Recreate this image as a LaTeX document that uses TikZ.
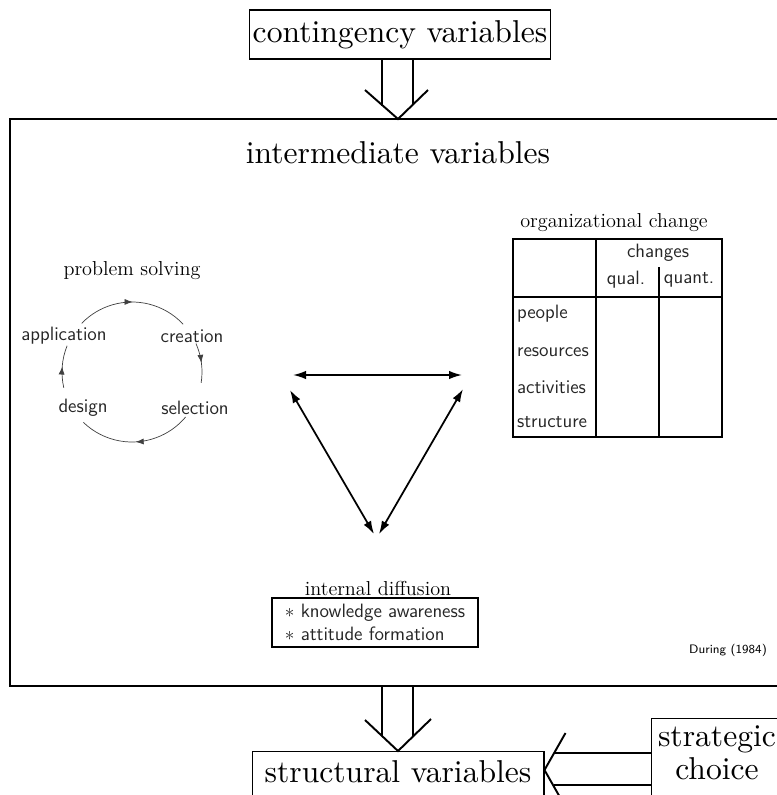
\documentclass[tikz,border=0pt]{standalone}
\usepackage{fontspec}
\usepackage{tikz}
\usetikzlibrary{arrows.meta}
\usetikzlibrary{decorations.markings}
\newfontfamily\tenrm{lmroman10-regular.otf}
\tikzset{->-/.style={decoration={
  markings,
  mark=at position #1 with {\arrow{Latex[length=1.6mm,width=1.2mm]}}},postaction={decorate}}}
\tikzset{bigbox/.style={draw,line width=0.6pt,inner sep=1pt,font=\tenrm\fontsize{18}{19}\selectfont}}
\tikzset{subtitle/.style={font=\fontsize{11.5}{13}\selectfont}}
\tikzset{smalltext/.style={font=\fontsize{11}{13}\sffamily,text=black!85,inner sep=1pt}}
\tikzset{fatline/.style={line width=1.1pt}}
\tikzset{dbl/.style={{Latex[length=2.6mm,width=1.7mm]}-{Latex[length=2.6mm,width=1.7mm]},line width=1pt}}

\begin{document}
\begin{tikzpicture}[x=0.02cm,y=-0.02cm]
      \useasboundingbox (0,0) rectangle (777,795);
      \clip (0,0) rectangle (777,795);
      % top and frame
      \node [bigbox,minimum width=6.02cm,minimum height=0.98cm] (cont) at (400,34.5) {contingency variables};
      \draw [line width=0.6pt] (790,119) -- (10,119) -- (10,686) -- (790,686);
      \coordinate (frametip) at (398,119);
      \coordinate (framebot) at (398,686);
      \draw [fatline] (cont.south) ++(-18,0) -- ++(0,46);
      \draw [fatline] (cont.south) ++(13,0) -- ++(0,45.5);
      \draw [fatline] (frametip) ++(-33,-29) -- (frametip) -- ++(30,-29);
      \node [font=\tenrm\fontsize{18}{19}\selectfont] (inter) at (398,153) {intermediate variables};
      % problem solving
      \node [subtitle] (pstitle) at (132,271) {problem solving};
      \coordinate (psc) at (132,372);
      \node [smalltext] (app) at (64,336) {application};
      \node [smalltext] (cre) at (192,336) {creation};
      \node [smalltext] (sel) at (195,408) {selection};
      \node [smalltext] (des) at (83,408) {design};
      \draw [black!75,->-=0.5] ([shift={(-136:70)}]psc) arc[start angle=-136,end angle=-43,radius=70];
      \draw [black!75,->-=0.5] ([shift={(-24:70)}]psc) arc[start angle=-24,end angle=9,radius=70];
      \draw [black!75,->-=0.5] ([shift={(40:70)}]psc) arc[start angle=40,end angle=134,radius=70];
      \draw [black!75,->-=0.5] ([shift={(167:70)}]psc) arc[start angle=167,end angle=202,radius=70];
      % triangle
      \coordinate (tri-l) at (293,375);
      \coordinate (tri-r) at (462,375);
      \coordinate (tri-ul) at (290,390);
      \coordinate (tri-ur) at (463,389);
      \coordinate (tri-bl) at (374,534);
      \coordinate (tri-br) at (379,534);
      \draw [dbl] (tri-l) -- (tri-r);
      \draw [dbl] (tri-ul) -- (tri-bl);
      \draw [dbl] (tri-ur) -- (tri-br);
      % organizational change
      \node [subtitle] (octitle) at (614,223) {organizational change};
      \draw [line width=0.6pt] (513,239) rectangle (722,437);
      \draw [line width=0.6pt] (513,297) -- (722,297);
      \draw [line width=0.6pt] (596,239) -- (596,437);
      \draw [line width=0.6pt] (659,267) -- (659,437);
      \node [smalltext] (chg) at (658,253) {changes};
      \node [smalltext] (qual) at (626,280) {qual.};
      \node [smalltext] (quant) at (689,280) {quant.};
      \foreach \y/\t in {314/people,352/resources,387/activities,422/structure}
        \node [smalltext,anchor=west] (\t) at (515,\y) {\t};
      % internal diffusion
      \node [subtitle] (idtitle) at (378,588) {internal diffusion};
      \node [smalltext,draw,line width=0.6pt,align=left,minimum width=4.12cm,minimum height=0.98cm] (idbox) at (375,622.5)
        {$\ast$ knowledge awareness\\$\ast$ attitude formation};
      \node [font=\fontsize{7}{8}\sffamily] (src) at (728,650) {During (1984)};
      % bottom
      \draw [fatline] (framebot) ++(-16,0) -- ++(0,50);
      \draw [fatline] (framebot) ++(15,0) -- ++(0,50.5);
      \node [bigbox,anchor=north,minimum width=5.84cm,text height=0.585cm,text depth=1cm] (struct) at (398,751) {structural variables};
      \draw [fatline] (struct.north) ++(-33,-31) -- (struct.north) -- ++(33,-32);
      \node [draw,line width=0.6pt,anchor=north west,minimum width=3cm,minimum height=2cm] (strat) at (651,718) {};
      \node [bigbox,draw=none,anchor=north,align=center,inner ysep=4pt] (strattext) at (717,718) {strategic\\choice};
      \path (struct.north east) ++(0,19) coordinate (choicetip);
      \draw [fatline] (choicetip) ++(21,-37) -- (choicetip) -- ++(21,37);
      \draw [fatline] (choicetip) ++(10,-17) -- (strat.west |- 0,753);
      \draw [fatline] (choicetip) ++(9,15) -- (strat.west |- 0,785);
    \end{tikzpicture}
\end{document}
